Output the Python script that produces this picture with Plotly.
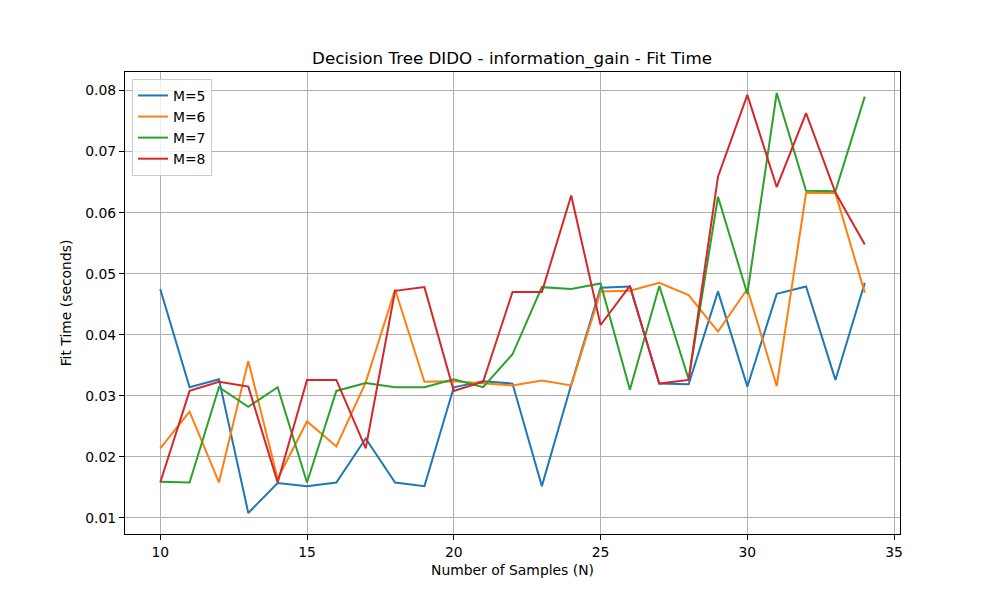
import plotly.graph_objects as go

n_samples = list(range(10, 35))

m5 = [0.0475, 0.0314, 0.0327, 0.0108, 0.0157, 0.0152, 0.0158, 0.0230, 0.0158, 0.0152,
      0.0314, 0.0324, 0.0320, 0.0152, 0.0318, 0.0477, 0.0479, 0.0320, 0.0319, 0.0471,
      0.0315, 0.0467, 0.0479, 0.0326, 0.0485]
m6 = [0.0214, 0.0274, 0.0158, 0.0357, 0.0164, 0.0258, 0.0217, 0.0322, 0.0474, 0.0323,
      0.0324, 0.0321, 0.0317, 0.0325, 0.0317, 0.0471, 0.0472, 0.0485, 0.0465, 0.0405,
      0.0475, 0.0316, 0.0632, 0.0632, 0.0469]
m7 = [0.0159, 0.0158, 0.0314, 0.0282, 0.0314, 0.0158, 0.0308, 0.0321, 0.0314, 0.0314,
      0.0327, 0.0314, 0.0368, 0.0478, 0.0475, 0.0484, 0.0310, 0.0480, 0.0327, 0.0626,
      0.0467, 0.0796, 0.0636, 0.0635, 0.0790]
m8 = [0.0158, 0.0308, 0.0323, 0.0315, 0.0158, 0.0326, 0.0326, 0.0214, 0.0472, 0.0478,
      0.0308, 0.0323, 0.0470, 0.0470, 0.0628, 0.0416, 0.0480, 0.0320, 0.0326, 0.0659,
      0.0793, 0.0642, 0.0763, 0.0633, 0.0548]

series = [("M=5", m5, "#1f77b4"), ("M=6", m6, "#ff7f0e"),
          ("M=7", m7, "#2ca02c"), ("M=8", m8, "#d62728")]

y_ticks = [0.01, 0.02, 0.03, 0.04, 0.05, 0.06, 0.07, 0.08]
x_ticks = [10, 15, 20, 25, 30, 35]

fig = go.Figure()
for name, vals, color in series:
    fig.add_trace(go.Scatter(x=n_samples, y=vals, mode="lines", name=name,
                             line=dict(color=color, width=2)))

font = "DejaVu Sans"
axis_common = dict(showline=True, linecolor="black", linewidth=1, mirror=True,
                   ticks="outside", ticklen=5, tickwidth=1, tickcolor="black",
                   showgrid=True, gridcolor="#b0b0b0", gridwidth=1, zeroline=False,
                   tickfont=dict(family=font, size=13.9, color="black"))

W, H = 992, 592  # page body has an 8px margin in the browser

fig.update_layout(
    width=W, height=H,
    paper_bgcolor="white", plot_bgcolor="white",
    margin=dict(l=117, r=100, t=64, b=66),
    title=dict(text="Decision Tree DIDO - information_gain - Fit Time",
               x=504 / W, xanchor="center", y=1 - 50 / H, yanchor="middle",
               font=dict(family=font, size=16.7, color="black")),
    xaxis=dict(range=[8.8, 35.2], tickvals=x_ticks,
               title=dict(text="Number of Samples (N)", standoff=6,
                          font=dict(family=font, size=13.9, color="black")),
               **axis_common),
    yaxis=dict(range=[0.00736, 0.08304], tickvals=y_ticks, tickformat=".2f",
               title=dict(text="Fit Time (seconds)", standoff=10,
                          font=dict(family=font, size=13.9, color="black")),
               **axis_common),
    legend=dict(x=0.009, y=0.985, xanchor="left", yanchor="top",
                bgcolor="rgba(255,255,255,0.8)", bordercolor="#cccccc", borderwidth=1,
                font=dict(family=font, size=13.9, color="black"),
                itemwidth=30, tracegroupgap=0),
    showlegend=True,
)

fig.write_html("out.html")
